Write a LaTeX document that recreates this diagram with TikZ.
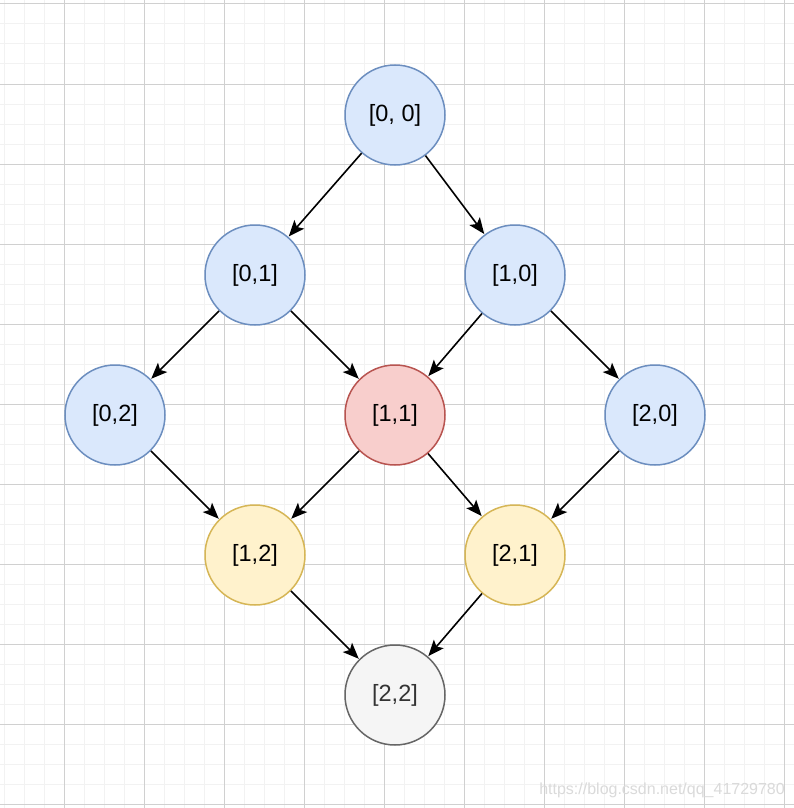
\documentclass[tikz,border=0pt]{standalone}
\usepackage{fontspec}
\setmainfont{Liberation Sans}
\usetikzlibrary{arrows.meta}
\definecolor{minorgrid}{HTML}{F2F2F2}
\definecolor{majorgrid}{HTML}{D0D0D0}
\definecolor{bluefill}{HTML}{DAE8FC}
\definecolor{bluedraw}{HTML}{6C8EBF}
\definecolor{redfill}{HTML}{F8CECC}
\definecolor{reddraw}{HTML}{B85450}
\definecolor{yelfill}{HTML}{FFF2CC}
\definecolor{yeldraw}{HTML}{D6B656}
\definecolor{grayfill}{HTML}{F5F5F5}
\definecolor{graydraw}{HTML}{666666}
\definecolor{graytext}{HTML}{333333}
\definecolor{wmark}{HTML}{DADADA}
\tikzset{
  state/.style={circle, minimum size=100pt, inner sep=0pt, line width=1.5pt,
    font=\fontsize{23.5}{27}\selectfont},
  bluenode/.style={state, fill=bluefill, draw=bluedraw},
  rednode/.style={state, fill=redfill, draw=reddraw},
  yelnode/.style={state, fill=yelfill, draw=yeldraw},
  graynode/.style={state, fill=grayfill, draw=graydraw, text=graytext},
  link/.style={line width=1.6pt, -{Stealth[length=16pt, width=13pt, inset=3.5pt]}, shorten >=0.5pt}
}
\begin{document}
\begin{tikzpicture}[x=1pt, y=-1pt]
\useasboundingbox (0,0) rectangle (794,808);
\fill[white] (0,0) rectangle (794,808);
\foreach \x in {4,24,...,784} \draw[minorgrid, line width=1pt] (\x,0) -- (\x,808);
\foreach \y in {4,24,...,804} \draw[minorgrid, line width=1pt] (0,\y) -- (794,\y);
\foreach \x in {64,144,...,784} \draw[majorgrid, line width=1pt] (\x,0) -- (\x,808);
\foreach \y in {4,84,...,804} \draw[majorgrid, line width=1pt] (0,\y) -- (794,\y);

\node[bluenode] (n00) at (395,115) {[0, 0]};
\node[bluenode] (n01) at (255,275) {[0,1]};
\node[bluenode] (n10) at (515,275) {[1,0]};
\node[bluenode] (n02) at (115,415) {[0,2]};
\node[rednode]  (n11) at (395,415) {[1,1]};
\node[bluenode] (n20) at (655,415) {[2,0]};
\node[yelnode]  (n12) at (255,555) {[1,2]};
\node[yelnode]  (n21) at (515,555) {[2,1]};
\node[graynode] (n22) at (395,695) {[2,2]};

\draw[link] (n00) -- (n01);
\draw[link] (n00) -- (n10);
\draw[link] (n01) -- (n02);
\draw[link] (n01) -- (n11);
\draw[link] (n10) -- (n11);
\draw[link] (n10) -- (n20);
\draw[link] (n02) -- (n12);
\draw[link] (n11) -- (n12);
\draw[link] (n11) -- (n21);
\draw[link] (n20) -- (n21);
\draw[link] (n12) -- (n22);
\draw[link] (n21) -- (n22);

\node[anchor=east, inner sep=0pt, text=wmark, font=\fontsize{16}{18}\selectfont] (wm) at (785,790) {https://blog.csdn.net/qq\_41729780};
\end{tikzpicture}
\end{document}
